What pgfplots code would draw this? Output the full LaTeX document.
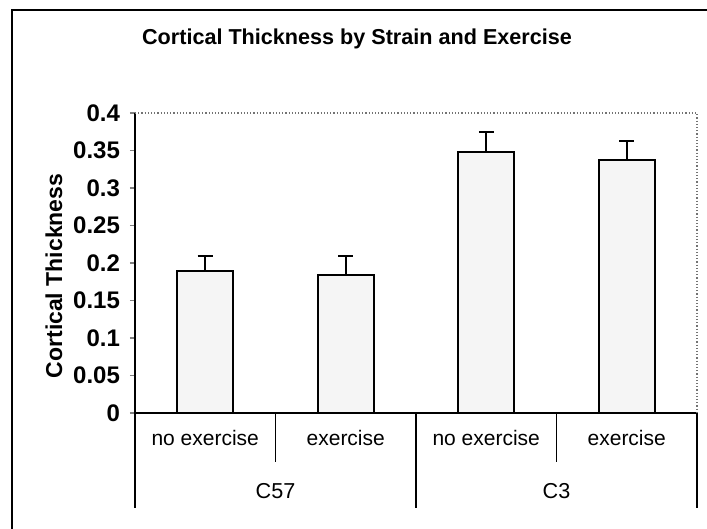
\documentclass[border=0pt]{standalone}
\usepackage{pgfplots}
\pgfplotsset{compat=1.18}
\usepackage{fontspec}
\setmainfont{Liberation Sans}

% bar heights and upper error bars
\pgfplotstableread{
x  val    err
0  0.189  0.020
1  0.184  0.025
2  0.348  0.027
3  0.337  0.026
}\cortical

\begin{document}
\begin{tikzpicture}
\path[use as bounding box] (-67.5pt,-58pt) rectangle (286pt,206.5pt);
% outer chart frame (runs off the right and bottom edges)
\draw[line width=0.6pt] (-61.5pt,-60pt) -- (-61.5pt,201.5pt) -- (290pt,201.5pt);
\node[font=\fontsize{10.8}{12}\selectfont\bfseries, anchor=base] at (111pt,184pt)
  {Cortical Thickness by Strain and Exercise};
\begin{axis}[
    at={(0,0)}, anchor=south west,
    width=281pt, height=150pt, scale only axis,
    clip=false,
    xmin=-0.5, xmax=3.5,
    ymin=0, ymax=0.4,
    ytick={0,0.05,...,0.4},
    /pgf/number format/assume math mode=true,
    /pgf/number format/fixed, /pgf/number format/precision=2,
    y tick label style={font=\fontsize{12}{14}\selectfont\bfseries, anchor=east, xshift=-1.5pt},
    xtick={0,1,2,3},
    xticklabels={no exercise, exercise, no exercise, exercise},
    x tick label style={font=\fontsize{10.5}{12}\selectfont, anchor=base, yshift=-14pt},
    xtick style={draw=none},
    axis x line=bottom, axis y line=left,
    axis line style={-, line width=0.9pt},
    tick align=outside,
    major tick length=2.5pt,
    ytick style={line width=0.6pt},
    ylabel={Cortical Thickness},
    every axis y label/.style={at={(axis cs:-0.5,0)}, xshift=-40.5pt, yshift=68.5pt,
        rotate=90, anchor=center, font=\fontsize{11.5}{13}\selectfont\bfseries},
]
\addplot[ybar, bar width=0.4, draw=black, line width=0.9pt, fill=black!4,
    error bars/.cd, y dir=plus, y explicit,
    error bar style={line width=0.8pt},
    error mark options={rotate=90, mark size=3.75pt, line width=0.8pt}]
    table[x=x, y=val, y error=err] {\cortical};

% plot area border, top and right
\draw[black!55, densely dotted, line width=0.6pt]
    (rel axis cs:0,1) -- (rel axis cs:1,1) -- (rel axis cs:1,0);
% category separators
\draw[line width=0.6pt] (axis cs:0.5,0) -- ([yshift=-24.5pt]axis cs:0.5,0);
\draw[line width=0.6pt] (axis cs:2.5,0) -- ([yshift=-24.5pt]axis cs:2.5,0);
\draw[line width=0.6pt] (axis cs:-0.5,0) -- ([yshift=-47.5pt]axis cs:-0.5,0);
\draw[line width=0.6pt] (axis cs:1.5,0) -- ([yshift=-47.5pt]axis cs:1.5,0);
\draw[line width=0.6pt] (axis cs:3.5,0) -- ([yshift=-47.5pt]axis cs:3.5,0);
\node[font=\fontsize{10.8}{12}\selectfont, anchor=base] at ([yshift=-43pt]axis cs:0.5,0) {C57};
\node[font=\fontsize{10.8}{12}\selectfont, anchor=base] at ([yshift=-43pt]axis cs:2.5,0) {C3};
\end{axis}
\end{tikzpicture}
\end{document}
